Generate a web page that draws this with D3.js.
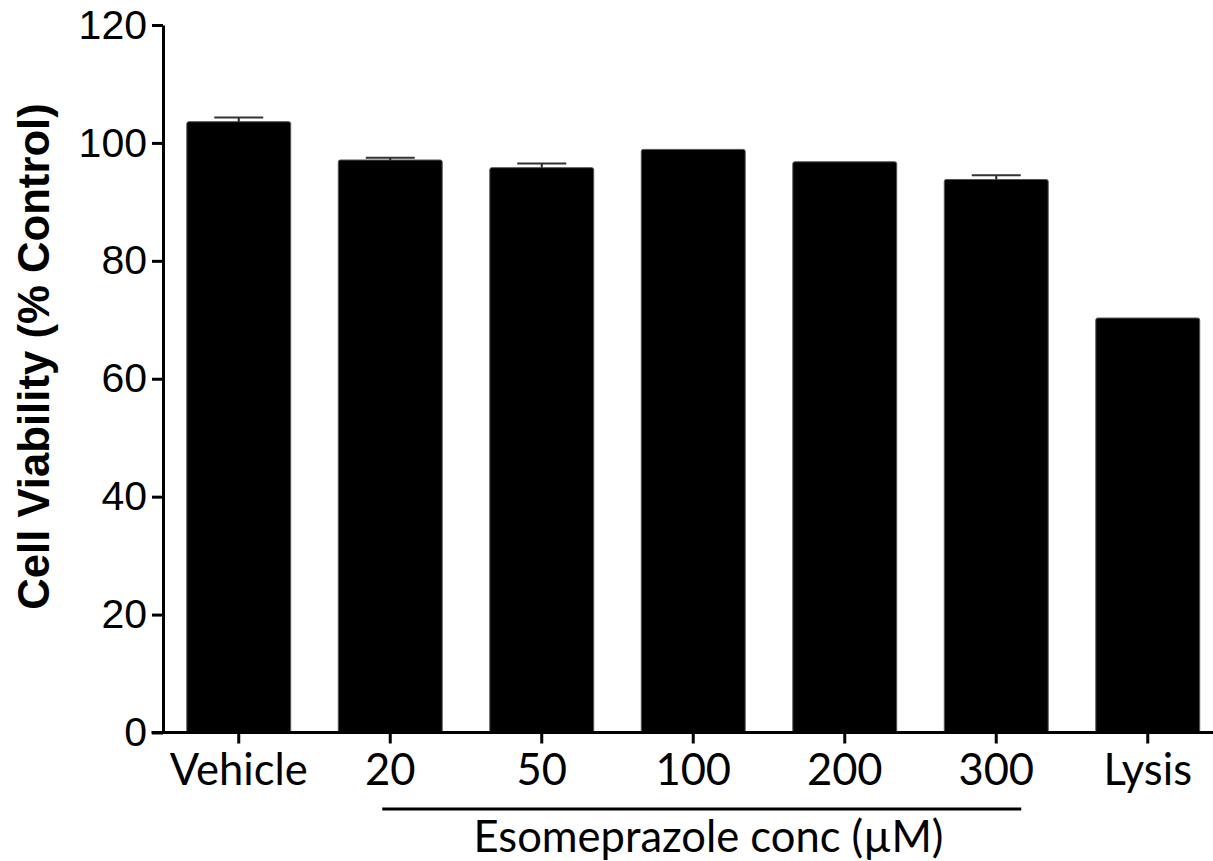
<!DOCTYPE html>
<html>
<head>
<meta charset="utf-8">
<script src="https://cdn.jsdelivr.net/npm/d3@7"></script>
<style>
  body { margin: 0; background: #fff; }
  svg { display: block; }
</style>
</head>
<body>
<script>
// values
const categories = ['Vehicle', '20', '50', '100', '200', '300', 'Lysis']
const viability = [103.6, 97.1, 95.8, 98.9, 96.8, 93.8, 70.3]
const sem = [0.7, 0.4, 0.7, 0, 0, 0.7, 0]
const yTicks = [0, 20, 40, 60, 80, 100, 120]
const groupStart = '20'
const groupEnd = '300'

const w = 1213
const h = 861

const data = categories.map((c, i) => ({ cat: c, value: viability[i], err: sem[i] }))

const svg = d3.select('body')
    .append('svg')
    .attr('width', w)
    .attr('height', h)

const x = d3.scaleBand()
    .domain(categories)
    .range([163, 1223.5])
    .paddingInner(0.314)
    .paddingOuter(0.157)

const y = d3.scaleLinear()
    .domain([0, 120])
    .range([732.5, 25])

// bars
svg.selectAll('rect.bar')
    .data(data)
    .enter()
    .append('rect')
    .attr('class', 'bar')
    .attr('x', d => x(d.cat))
    .attr('y', d => y(d.value))
    .attr('width', x.bandwidth())
    .attr('height', d => y(0) - y(d.value))
    .attr('rx', 2)
    .attr('fill', '#000')
    .attr('stroke', '#555')
    .attr('stroke-width', 1)

// upper error bars
const errs = svg.selectAll('g.err')
    .data(data.filter(d => d.err > 0))
    .enter()
    .append('g')
    .attr('class', 'err')

errs.append('line')
    .attr('x1', d => x(d.cat) + x.bandwidth() / 2)
    .attr('x2', d => x(d.cat) + x.bandwidth() / 2)
    .attr('y1', d => y(d.value))
    .attr('y2', d => y(d.value + d.err))
    .attr('stroke', '#222')
    .attr('stroke-width', 2)

errs.append('line')
    .attr('x1', d => x(d.cat) + x.bandwidth() / 2 - 24.5)
    .attr('x2', d => x(d.cat) + x.bandwidth() / 2 + 24.5)
    .attr('y1', d => y(d.value + d.err))
    .attr('y2', d => y(d.value + d.err))
    .attr('stroke', '#333')
    .attr('stroke-width', 2)

// y axis
const yAxis = d3.axisLeft(y)
    .tickValues(yTicks)
    .tickSize(11)
    .tickSizeOuter(0)
    .tickPadding(5)

const gy = svg.append('g')
    .attr('id', 'y-axis')
    .attr('transform', 'translate(163, 0)')
    .call(yAxis)

gy.select('.domain').attr('stroke', '#000').attr('stroke-width', 3)
gy.selectAll('.tick line').attr('stroke', '#000').attr('stroke-width', 3)
gy.selectAll('.tick text')
    .attr('fill', '#000')
    .style('font-family', '"Liberation Sans", Arial, sans-serif')
    .style('font-size', '41px')

// x axis
const xAxis = d3.axisBottom(x)
    .tickSize(11)
    .tickSizeOuter(0)

const gx = svg.append('g')
    .attr('id', 'x-axis')
    .attr('transform', `translate(0, ${y(0)})`)
    .call(xAxis)

gx.select('.domain').remove()
gx.selectAll('.tick line').attr('stroke', '#000').attr('stroke-width', 3)
gx.selectAll('.tick text')
    .attr('fill', '#000')
    .attr('y', 52)
    .attr('dy', 0)
    .style('font-family', 'Lato, "Open Sans", sans-serif')
    .style('font-size', '43.5px')

gx.append('line')
    .attr('x1', 151.5)
    .attr('x2', w)
    .attr('y1', 0)
    .attr('y2', 0)
    .attr('stroke', '#000')
    .attr('stroke-width', 3)

// y title
svg.append('text')
    .attr('transform', 'translate(49, 356.5) rotate(-90)')
    .attr('text-anchor', 'middle')
    .style('font-family', '"Liberation Sans", Arial, sans-serif')
    .style('font-weight', 'bold')
    .style('font-size', '43.7px')
    .text('Cell Viability (% Control)')

// treatment group bracket
const gx1 = x(groupStart) + x.bandwidth() / 2 - 8
const gx2 = x(groupEnd) + x.bandwidth() / 2 + 25

svg.append('line')
    .attr('x1', gx1)
    .attr('x2', gx2)
    .attr('y1', 809)
    .attr('y2', 809)
    .attr('stroke', '#000')
    .attr('stroke-width', 3)

svg.append('text')
    .attr('x', 708.5)
    .attr('y', 852)
    .attr('text-anchor', 'middle')
    .style('font-family', 'Lato, "Open Sans", sans-serif')
    .style('font-size', '43.5px')
    .text('Esomeprazole conc (µM)')
</script>
</body>
</html>
